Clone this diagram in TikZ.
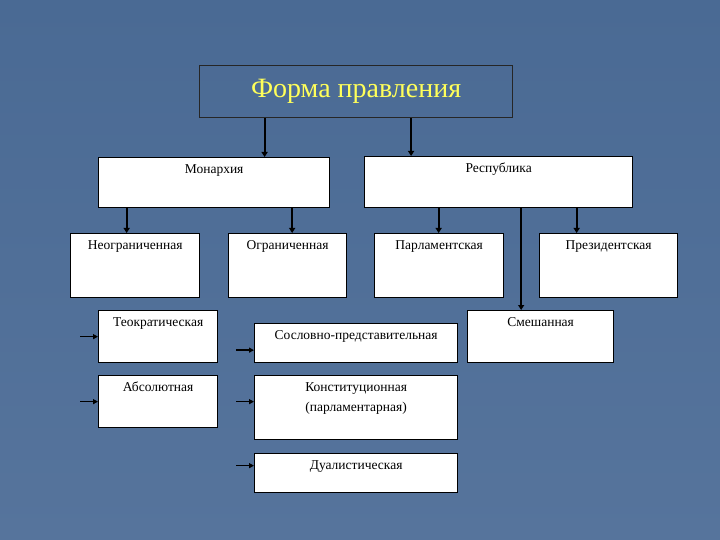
\documentclass[tikz,border=0pt]{standalone}
\usepackage{fontspec}
\setmainfont{Liberation Serif}
\usetikzlibrary{arrows.meta}

\definecolor{bgtop}{RGB}{74,106,148}
\definecolor{bgbot}{RGB}{86,116,156}
\definecolor{titleyellow}{RGB}{255,255,90}

\begin{document}
\begin{tikzpicture}[x=1pt, y=-1pt,
  block/.style={rectangle, draw, line width=1.3pt, fill=white, anchor=north west,
    inner xsep=2pt, inner ysep=5pt, text height=11pt, font=\fontsize{13.5}{20}\selectfont},
  arr/.style={line width=1.8pt, -{Triangle[length=5pt, width=6pt]}},
  sarr/.style={line width=1.5pt, -{Triangle[length=5pt, width=5pt]}}]

  % background
  \fill[top color=bgtop, bottom color=bgbot] (0,0) rectangle (720,540);

  \node[draw=black!85, line width=1.2pt, anchor=north west, minimum width=313pt, minimum height=52pt,
    text=titleyellow, font=\fontsize{28}{30}\selectfont] (title) at (199,65) {Форма правления};

  % second level
  \node[block, minimum width=231pt, text depth=29pt] (mon) at (98,157) {Монархия};
  \node[block, minimum width=268pt, text depth=30pt] (rep) at (364,156) {Республика};

  % third level
  \node[block, minimum width=129pt, text depth=43pt] (unlim) at (70,233) {Неограниченная};
  \node[block, minimum width=118pt, text depth=43pt] (lim) at (228,233) {Ограниченная};
  \node[block, minimum width=129pt, text depth=43pt] (parl) at (374,233) {Парламентская};
  \node[block, minimum width=138pt, text depth=43pt] (pres) at (539,233) {Президентская};
  \node[block, minimum width=146pt, text depth=31pt] (mixed) at (467,310) {Смешанная};

  % kinds of monarchy
  \node[block, minimum width=119pt, text depth=31pt] (theo) at (98,310) {Теократическая};
  \node[block, minimum width=119pt, text depth=31pt] (abs) at (98,375) {Абсолютная};
  \node[block, minimum width=203pt, text depth=18pt] (estate) at (254,323) {Сословно-представительная};
  \node[block, minimum width=203pt, text height=31pt, text depth=23pt, align=center] (const) at (254,375) {Конституционная\\(парламентарная)};
  \node[block, minimum width=203pt, text depth=18pt] (dual) at (254,453) {Дуалистическая};

  % arrow starts
  \coordinate (t1) at ([xshift=-91.5pt]title.south);
  \coordinate (t2) at ([xshift=55pt]title.south);
  \coordinate (m1) at ([xshift=-87.5pt]mon.south);
  \coordinate (m2) at ([xshift=78pt]mon.south);
  \coordinate (r1) at ([xshift=-60pt]rep.south);
  \coordinate (r2) at ([xshift=22.5pt]rep.south);
  \coordinate (r3) at ([xshift=78pt]rep.south);

  \draw[arr] (t1) -- (t1 |- mon.north);
  \draw[arr] (t2) -- (t2 |- rep.north);
  \draw[arr] (m1) -- (m1 |- unlim.north);
  \draw[arr] (m2) -- (m2 |- lim.north);
  \draw[arr] (r1) -- (r1 |- parl.north);
  \draw[arr] (r2) -- (r2 |- mixed.north);
  \draw[arr] (r3) -- (r3 |- pres.north);

  % short arrows on the left
  \draw[sarr] ([xshift=-18pt]theo.west) -- (theo.west);
  \draw[sarr] ([xshift=-18pt]abs.west) -- (abs.west);
  \draw[sarr] ([xshift=-18pt, yshift=-7pt]estate.west) -- ([yshift=-7pt]estate.west);
  \draw[sarr] ([xshift=-18pt, yshift=6pt]const.west) -- ([yshift=6pt]const.west);
  \draw[sarr] ([xshift=-18pt, yshift=7.5pt]dual.west) -- ([yshift=7.5pt]dual.west);
\end{tikzpicture}
\end{document}
